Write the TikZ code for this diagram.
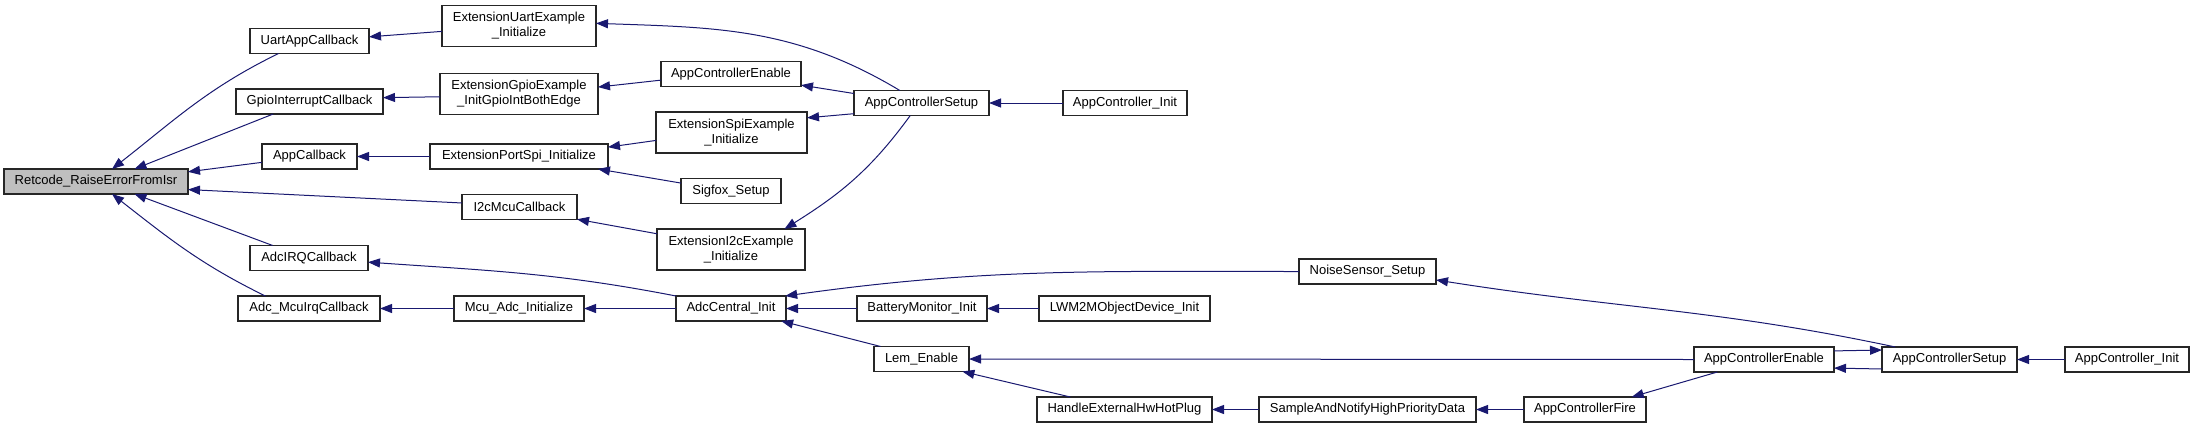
\documentclass[tikz,border=0pt]{standalone}
\usepackage{fontspec}
\setmainfont{Liberation Sans}
\usepackage{tikz}
\usetikzlibrary{
	arrows.meta
}
\definecolor{EdgeBlue}{RGB}{25,25,112}
\definecolor{BoxGray}{RGB}{191,191,191}

\begin{document}
\begin{tikzpicture}[x=1pt, y=-1pt,
		fn/.style={draw=black!85, line width=1.3pt, fill=white, inner sep=0pt, outer sep=0pt, minimum height=25pt, align=center, font=\fontsize{13}{15}\selectfont},
		fntwo/.style={fn, minimum height=41pt},
		call/.style={draw=EdgeBlue, line width=1pt, -{Triangle[length=12pt, width=9pt]}}]
		\useasboundingbox (0,0) rectangle (2195,429);
		
		% 第一、二列
		\node[fn, fill=BoxGray, minimum width=184pt] (retcode) at (96,181.5) {Retcode\_RaiseErrorFromIsr};
		\node[fn, minimum width=119pt] (uartcb) at (309.5,41) {UartAppCallback};
		\node[fn, minimum width=147pt] (gpiocb) at (309.5,101.5) {GpioInterruptCallback};
		\node[fn, minimum width=95pt] (appcb) at (309.5,156.5) {AppCallback};
		\node[fn, minimum width=118pt] (adcirqcb) at (309,258) {AdcIRQCallback};
		\node[fn, minimum width=142pt] (adcmcucb) at (309,308.5) {Adc\_McuIrqCallback};
		
		% 第三列
		\node[fntwo, minimum width=154pt] (extuart) at (519,26) {ExtensionUartExample\\\_Initialize};
		\node[fntwo, minimum width=158pt] (extgpio) at (519,94) {ExtensionGpioExample\\\_InitGpioIntBothEdge};
		\node[fn, minimum width=178pt] (portspi) at (519,156.5) {ExtensionPortSpi\_Initialize};
		\node[fn, minimum width=115pt] (i2ccb) at (519.5,207) {I2cMcuCallback};
		\node[fn, minimum width=130pt] (mcuadc) at (519,308.5) {Mcu\_Adc\_Initialize};
		
		% 第四列
		\node[fn, minimum width=140pt] (ace1) at (731,74) {AppControllerEnable};
		\node[fntwo, minimum width=151pt] (extspi) at (731.5,132.5) {ExtensionSpiExample\\\_Initialize};
		\node[fn, minimum width=100pt] (sigfox) at (731,191) {Sigfox\_Setup};
		\node[fntwo, minimum width=148pt] (exti2c) at (731,249.5) {ExtensionI2cExample\\\_Initialize};
		\node[fn, minimum width=110pt] (adccentral) at (731,308.5) {AdcCentral\_Init};
		
		% 其余
		\node[fn, minimum width=135pt] (acs1) at (921.5,103) {AppControllerSetup};
		\node[fn, minimum width=130pt] (battery) at (922,308.5) {BatteryMonitor\_Init};
		\node[fn, minimum width=95pt] (lem) at (921.5,359) {Lem\_Enable};
		\node[fn, minimum width=124pt] (aci1) at (1125,103) {AppController\_Init};
		\node[fn, minimum width=171pt] (lwm2m) at (1124.5,308.5) {LWM2MObjectDevice\_Init};
		\node[fn, minimum width=175pt] (hotplug) at (1124.5,409.5) {HandleExternalHwHotPlug};
		\node[fn, minimum width=137pt] (noise) at (1367.5,271.5) {NoiseSensor\_Setup};
		\node[fn, minimum width=217pt] (sample) at (1367.5,409.5) {SampleAndNotifyHighPriorityData};
		\node[fn, minimum width=122pt] (acfire) at (1585,409.5) {AppControllerFire};
		\node[fn, minimum width=140pt] (ace2) at (1764,359.5) {AppControllerEnable};
		\node[fn, minimum width=135pt] (acs2) at (1949.5,359.5) {AppControllerSetup};
		\node[fn, minimum width=124pt] (aci2) at (2127,359.5) {AppController\_Init};
		
		% 调用 Retcode 的边
		\draw[call] (uartcb.202) to[out=206, in=38] (retcode.38);
		\draw[call] (gpiocb.199) -- (retcode.18);
		\draw[call] (appcb.187) -- (retcode.6);
		\draw[call] (i2ccb.176) -- (retcode.-5);
		\draw[call] (adcirqcb.161) -- (retcode.-18);
		\draw[call] (adcmcucb.164) to[out=154, in=-38] (retcode.-38);
		
		\draw[call] (extuart.184) -- (uartcb.4);
		\draw[call] (extgpio.182) -- (gpiocb.3);
		\draw[call] (portspi.west) -- (appcb.east);
		\draw[call] (exti2c.168) -- (i2ccb.-12);
		\draw[call] (mcuadc.west) -- (adcmcucb.east);
		\draw[call] (adccentral.north west) to[out=169, in=-4] (adcirqcb.-4);
		\draw[call] (adccentral.west) -- (mcuadc.east);
		
		% AppControllerSetup 上支
		\draw[call] (acs1.150) to[out=149, in=-2] (extuart.2);
		\draw[call] (ace1.185) -- (extgpio.5);
		\draw[call] (acs1.172) -- (ace1.-9);
		\draw[call] (acs1.189) -- (extspi.11);
		\draw[call] (extspi.186) -- (portspi.6);
		\draw[call] (sigfox.171) -- (portspi.-9);
		\draw[call] (acs1.228) to[out=234, in=32] (exti2c.21);
		\draw[call] (aci1.west) -- (acs1.east);
		
		% AdcCentral_Init 下支
		\draw[call] (battery.west) -- (adccentral.east);
		\draw[call] (lwm2m.west) -- (battery.east);
		\draw[call] (lem.163) -- (adccentral.-14);
		\draw[call] (noise.west) to[out=180, in=8] (adccentral.13);
		\draw[call] (ace2.west) -- (lem.east);
		\draw[call] (hotplug.167) -- (lem.-17);
		\draw[call] (sample.west) -- (hotplug.east);
		\draw[call] (acfire.west) -- (sample.east);
		\draw[call] (ace2.195) -- (acfire.15);
		\draw[call] (acs2.167) to[out=168, in=-9] (noise.-7);
		\draw[call] (ace2.7) -- (acs2.172);
		\draw[call] (acs2.188) -- (ace2.-7);
		\draw[call] (aci2.west) -- (acs2.east);
	\end{tikzpicture}
\end{document}
